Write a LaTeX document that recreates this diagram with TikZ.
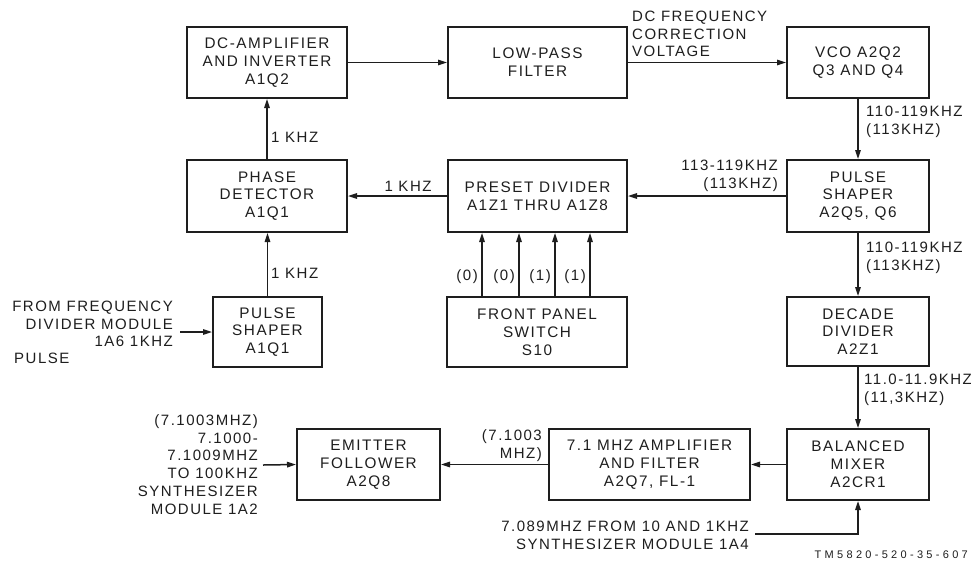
\documentclass[tikz,border=0pt]{standalone}
\usepackage{fontspec}
\setmainfont{Liberation Sans}[LetterSpace=10]
\usetikzlibrary{arrows.meta}
\definecolor{ink}{RGB}{30,30,30}
\begin{document}
\begin{tikzpicture}[x=1pt,y=-1pt,
  blk/.style={draw=ink, line width=2pt, rectangle, inner sep=0pt, align=center,
    font=\fontsize{15.3}{17.8}\selectfont, text=ink},
  lbl/.style={inner sep=0pt, font=\fontsize{15}{17.8}\selectfont, text=ink},
  conn/.style={draw=ink, line width=1.5pt, -{Triangle[length=9pt,width=5.5pt]}},
  wire/.style={draw=ink, line width=1.5pt}]
\useasboundingbox (0,0) rectangle (971,566);
\fill[white] (0,0) rectangle (971,566);
% blocks
\node[blk, minimum width=160pt, minimum height=71pt] (dcamp) at (267,62.5) {DC-AMPLIFIER\\AND INVERTER\\A1Q2};
\node[blk, minimum width=179pt, minimum height=71pt] (lpf) at (537.5,62.5) {LOW-PASS\\FILTER};
\node[blk, minimum width=142pt, minimum height=71pt] (vco) at (858,62.5) {VCO A2Q2\\Q3 AND Q4};
\node[blk, minimum width=160pt, minimum height=72pt] (phase) at (267,196) {PHASE\\DETECTOR\\A1Q1};
\node[blk, minimum width=179pt, minimum height=72pt] (preset) at (537.5,196) {PRESET DIVIDER\\A1Z1 THRU A1Z8};
\node[blk, minimum width=142pt, minimum height=72pt] (pshapeB) at (858,196) {PULSE\\SHAPER\\A2Q5, Q6};
\node[blk, minimum width=109pt, minimum height=70pt] (pshapeA) at (267.5,332) {PULSE\\SHAPER\\A1Q1};
\node[blk, minimum width=180pt, minimum height=70pt] (fpanel) at (537,332) {FRONT PANEL\\SWITCH\\S10};
\node[blk, minimum width=142pt, minimum height=69pt] (decade) at (858,331.5) {DECADE\\DIVIDER\\A2Z1};
\node[blk, minimum width=143pt, minimum height=71pt] (emit) at (368.5,464.5) {EMITTER\\FOLLOWER\\A2Q8};
\node[blk, minimum width=201pt, minimum height=71pt] (amp) at (649.5,464.5) {7.1 MHZ AMPLIFIER\\AND FILTER\\A2Q7, FL-1};
\node[blk, minimum width=142pt, minimum height=71pt] (mixer) at (858,464.5) {BALANCED\\MIXER\\A2CR1};
% connectors
\draw[conn] (dcamp.east) -- (lpf.west);
\draw[conn] (lpf.east) -- (vco.west);
\draw[conn] (vco.south) -- (pshapeB.north);
\draw[conn] (pshapeB.west) -- (preset.east);
\draw[conn] (preset.west) -- (phase.east);
\draw[conn] (phase.north) -- (dcamp.south);
\draw[conn] (pshapeA.north) -- (pshapeA.north |- phase.south);
\draw[conn] (pshapeB.south) -- (decade.north);
\draw[conn] (decade.south) -- (mixer.north);
\draw[conn] (mixer.west) -- (amp.east);
\draw[conn] (amp.west) -- (emit.east);
\draw[conn] ([xshift=-55pt]fpanel.north) -- ([xshift=-55pt]fpanel.north |- preset.south);
\draw[conn] ([xshift=-18pt]fpanel.north) -- ([xshift=-18pt]fpanel.north |- preset.south);
\draw[conn] ([xshift=18pt]fpanel.north) -- ([xshift=18pt]fpanel.north |- preset.south);
\draw[conn] ([xshift=53pt]fpanel.north) -- ([xshift=53pt]fpanel.north |- preset.south);
% labels
\node[lbl, anchor=west, align=left] (dcfreq) at (632,34) {DC FREQUENCY\\CORRECTION\\VOLTAGE};
\node[lbl, anchor=west, align=left] (f1) at (866,121.5) {110-119KHZ\\(113KHZ)};
\node[lbl, anchor=east, align=right] (f2) at (778,175.5) {113-119KHZ\\(113KHZ)};
\node[lbl] (k1) at (408,186) {1 KHZ};
\node[lbl, anchor=west] (k2) at (271,137) {1 KHZ};
\node[lbl, anchor=west] (k3) at (271,273) {1 KHZ};
\node[lbl, anchor=west, align=left] (f3) at (866,257.5) {110-119KHZ\\(113KHZ)};
\node[lbl, anchor=west, align=left] (f4) at (864,389.5) {11.0-11.9KHZ\\(11,3KHZ)};
\node[lbl, anchor=east, align=right] (f5) at (542,446) {(7.1003\\MHZ)};
\node[lbl, anchor=east] (s1) at (478,277) {(0)};
\node[lbl, anchor=east] (s2) at (515,277) {(0)};
\node[lbl, anchor=east] (s3) at (551,277) {(1)};
\node[lbl, anchor=east] (s4) at (586,277) {(1)};
\node[lbl, anchor=east, align=right] (from) at (173,324) {FROM FREQUENCY\\DIVIDER MODULE\\1A6 1KHZ};
\node[lbl, anchor=west] (pulse) at (14,358) {PULSE};
\coordinate (inA) at (180,332);
\draw[conn] (inA) -- (pshapeA.west);
\node[lbl, anchor=east, align=right] (out) at (258,464.5) {(7.1003MHZ)\\7.1000-\\7.1009MHZ\\TO 100KHZ\\SYNTHESIZER\\MODULE 1A2};
\coordinate (outA) at (263,465);
\draw[conn] (outA) -- (emit.west);
\node[lbl, anchor=east, align=right] (bot) at (749,535) {7.089MHZ FROM 10 AND 1KHZ\\SYNTHESIZER MODULE 1A4};
\coordinate (botA) at (755,534);
\draw[conn] (botA) -| (mixer.south);
\node[inner sep=0pt, text=ink, anchor=east, font=\fontsize{11}{12}\selectfont\addfontfeatures{LetterSpace=30}] (tm) at (968,555) {TM5820-520-35-607};
\end{tikzpicture}
\end{document}
